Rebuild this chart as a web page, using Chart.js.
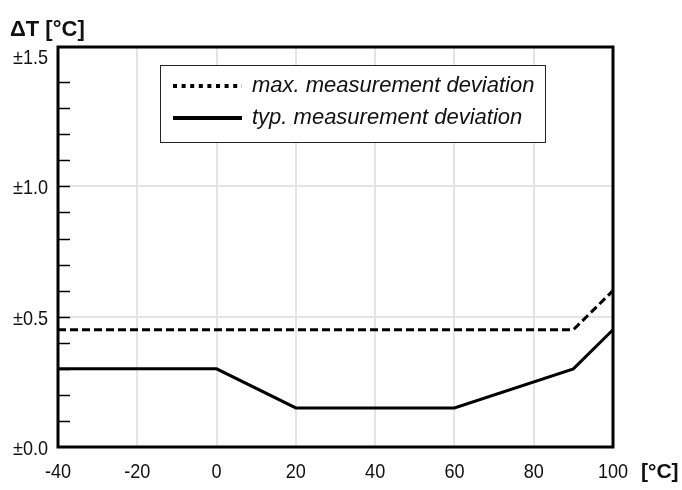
<!DOCTYPE html>
<html>
<head>
<meta charset="utf-8">
<script src="https://cdn.jsdelivr.net/npm/chart.js@4"></script>
<style>
  html, body { margin: 0; padding: 0; background: #fff; }
  #wrap { width: 682px; height: 490px; }
</style>
</head>
<body>
<div id="wrap"><canvas id="chart" width="682" height="490"></canvas></div>
<script>
// ── Data ─────────────────────────────────────────────────────────
const TEMPS_MAX = [-40, 90, 100];
const DEV_MAX = [0.45, 0.45, 0.6];
const TEMPS_TYP = [-40, 0, 20, 60, 90, 100];
const DEV_TYP = [0.3, 0.3, 0.15, 0.15, 0.3, 0.45];
const X_TICKS = [-40, -20, 0, 20, 40, 60, 80, 100];
const Y_TICKS = [0, 0.5, 1.0, 1.5];
const Y_MINOR = [0.1, 0.2, 0.3, 0.4, 0.5, 0.6, 0.7, 0.8, 0.9, 1.0, 1.1, 1.2, 1.3, 1.4];
const LABEL_MAX = "max. measurement deviation";
const LABEL_TYP = "typ. measurement deviation";
const Y_TITLE = "ΔT [°C]";
const X_TITLE = "[°C]";

const SANS = "'Liberation Sans', Arial, sans-serif";
const GRID = "#e4e4e4";
const NARROW = 0.86; // tick labels in the reference are a bit condensed

const toPoints = (xs, ys) => xs.map((x, i) => ({ x, y: ys[i] }));
const yLabel = v => "±" + Number(v).toFixed(1);

// condensed text helper
function narrowText(ctx, text, x, y, align) {
  ctx.save();
  ctx.translate(x, y);
  ctx.scale(NARROW, 1);
  ctx.textAlign = align;
  ctx.fillText(text, 0, 0);
  ctx.restore();
}

// ── Frame, inner minor ticks, tick labels, titles, boxed legend ──
const decor = {
  id: "decor",
  afterDatasetsDraw(chart) {
    const { ctx, chartArea: a, scales } = chart;
    ctx.save();

    // minor ticks on the inside of the left axis
    ctx.strokeStyle = "#000";
    ctx.lineWidth = 1.5;
    Y_MINOR.forEach(v => {
      const y = Math.round(scales.y.getPixelForValue(v)) + 0.5;
      ctx.beginPath();
      ctx.moveTo(a.left, y);
      ctx.lineTo(a.left + 12, y);
      ctx.stroke();
    });

    // frame
    ctx.lineWidth = 3;
    ctx.strokeRect(a.left, a.top, a.right - a.left, a.bottom - a.top);

    // tick labels
    ctx.fillStyle = "#111";
    ctx.font = "21px " + SANS;
    ctx.textBaseline = "middle";
    scales.y.ticks.forEach(t => {
      narrowText(ctx, yLabel(t.value), a.left - 10, scales.y.getPixelForValue(t.value) + 2, "right");
    });
    scales.x.ticks.forEach(t => {
      narrowText(ctx, String(t.value), scales.x.getPixelForValue(t.value), a.bottom + 25, "center");
    });

    // legend box
    const lx = a.left + 102, ly = a.top + 18, lw = 385, lh = 77;
    ctx.fillStyle = "#fff";
    ctx.fillRect(lx, ly, lw, lh);
    ctx.lineWidth = 1;
    ctx.strokeStyle = "#222";
    ctx.strokeRect(lx + 0.5, ly + 0.5, lw, lh);

    const rows = [
      { label: chart.data.datasets[0].label, dash: [4, 4.6], y: ly + 21 },
      { label: chart.data.datasets[1].label, dash: [], y: ly + 53 },
    ];
    ctx.font = "italic 22px " + SANS;
    ctx.textAlign = "left";
    rows.forEach(r => {
      ctx.strokeStyle = "#000";
      ctx.lineWidth = 4;
      ctx.setLineDash(r.dash);
      ctx.beginPath();
      ctx.moveTo(lx + 13, r.y);
      ctx.lineTo(lx + 82, r.y);
      ctx.stroke();
      ctx.setLineDash([]);
      ctx.fillStyle = "#111";
      ctx.fillText(r.label, lx + 92, r.y);
    });

    // axis titles
    ctx.fillStyle = "#111";
    ctx.font = "bold 22px " + SANS;
    ctx.textAlign = "left";
    ctx.fillText(Y_TITLE, 10, 30);
    ctx.font = "bold 21px " + SANS;
    ctx.fillText(X_TITLE, a.right + 28, a.bottom + 25);
    ctx.restore();
  }
};

new Chart(document.getElementById("chart"), {
  type: "line",
  data: {
    datasets: [
      {
        label: LABEL_MAX,
        data: toPoints(TEMPS_MAX, DEV_MAX),
        borderColor: "#000",
        borderWidth: 3,
        borderDash: [8, 4],
        pointRadius: 0,
        tension: 0,
      },
      {
        label: LABEL_TYP,
        data: toPoints(TEMPS_TYP, DEV_TYP),
        borderColor: "#000",
        borderWidth: 3,
        pointRadius: 0,
        tension: 0,
      },
    ],
  },
  options: {
    responsive: false,
    animation: false,
    devicePixelRatio: 1,
    layout: { padding: { top: 47, right: 69, left: 0, bottom: 0 } },
    plugins: { legend: { display: false }, tooltip: { enabled: false }, title: { display: false } },
    scales: {
      x: {
        type: "linear",
        min: -40,
        max: 100,
        afterBuildTicks: s => { s.ticks = X_TICKS.map(v => ({ value: v })); },
        afterFit: s => { s.height = 43; },
        grid: {
          drawTicks: false,
          lineWidth: 2,
          color: ctx => (ctx.tick && (ctx.tick.value === -40 || ctx.tick.value === 100)) ? "rgba(0,0,0,0)" : GRID,
        },
        border: { display: false },
        ticks: { display: false },
      },
      y: {
        type: "linear",
        min: 0,
        max: 1.535,
        afterBuildTicks: s => { s.ticks = Y_TICKS.map(v => ({ value: v })); },
        afterFit: s => { s.width = 58; },
        grid: {
          drawTicks: false,
          lineWidth: 2,
          color: ctx => (ctx.tick && (ctx.tick.value === 0.5 || ctx.tick.value === 1.0)) ? GRID : "rgba(0,0,0,0)",
        },
        border: { display: false },
        ticks: { display: false },
      },
    },
  },
  plugins: [decor],
});
</script>
</body>
</html>
